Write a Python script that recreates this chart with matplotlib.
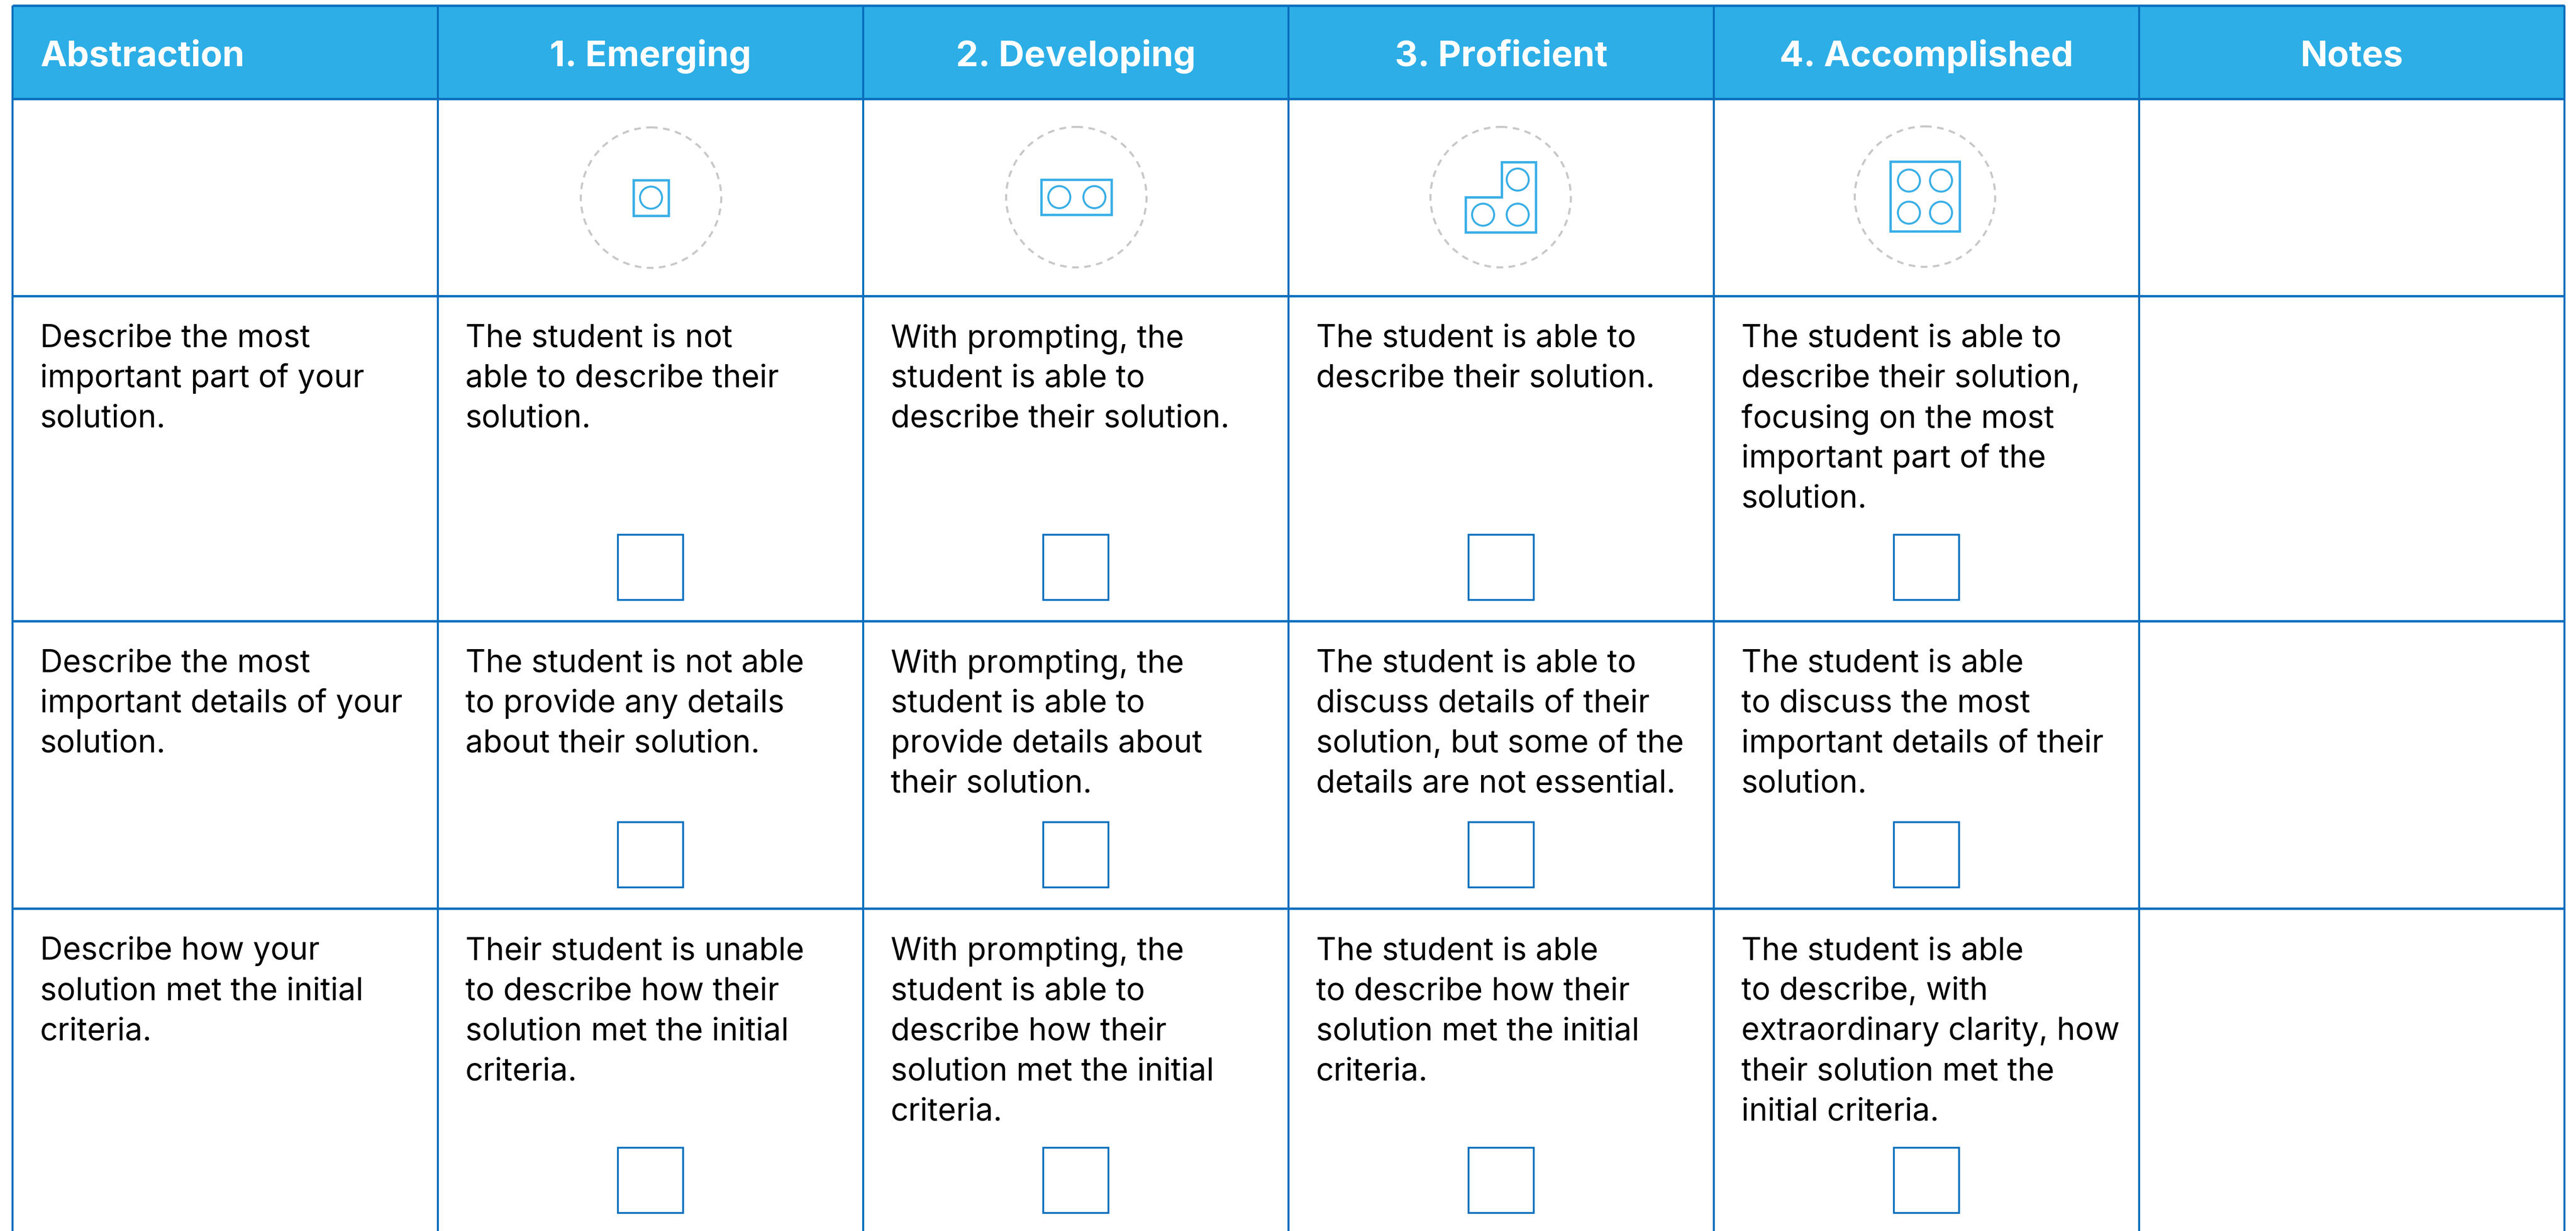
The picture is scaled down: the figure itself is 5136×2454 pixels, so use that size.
import matplotlib
matplotlib.use('Agg')
from matplotlib import pyplot as plt
from matplotlib.patches import Rectangle, Circle, Polygon

headers = ['Abstraction', '1. Emerging', '2. Developing', '3. Proficient', '4. Accomplished', 'Notes']

criteria = [
    'Describe the most\nimportant part of your\nsolution.',
    'Describe the most\nimportant details of your\nsolution.',
    'Describe how your\nsolution met the initial\ncriteria.',
]
emerging = [
    'The student is not\nable to describe their\nsolution.',
    'The student is not able\nto provide any details\nabout their solution.',
    'Their student is unable\nto describe how their\nsolution met the initial\ncriteria.',
]
developing = [
    'With prompting, the\nstudent is able to\ndescribe their solution.',
    'With prompting, the\nstudent is able to\nprovide details about\ntheir solution.',
    'With prompting, the\nstudent is able to\ndescribe how their\nsolution met the initial\ncriteria.',
]
proficient = [
    'The student is able to\ndescribe their solution.',
    'The student is able to\ndiscuss details of their\nsolution, but some of the\ndetails are not essential.',
    'The student is able\nto describe how their\nsolution met the initial\ncriteria.',
]
accomplished = [
    'The student is able to\ndescribe their solution,\nfocusing on the most\nimportant part of the\nsolution.',
    'The student is able\nto discuss the most\nimportant details of their\nsolution.',
    'The student is able\nto describe, with\nextraordinary clarity, how\ntheir solution met the\ninitial criteria.',
]
columns = [criteria, emerging, developing, proficient, accomplished]

# pixel layout of the table
W, H = 5136, 2454
COL_X = [25, 873, 1721, 2569, 3417, 4265, 5113]
ROW_Y = [11, 197, 590, 1238, 1811]
BOX_TOP = [1065, 1638, 2287]
BOX_SIZE = 130
LINE_H = 80
PAD = 55

BLUE = '#2daee6'
LINE = '#0a6ebd'
ICON = '#38aee6'
FONT = 'Inter'
BODY_PT = 45
HEAD_PT = 51


def drawGrid(ax):
    ax.add_patch(Rectangle((COL_X[0], ROW_Y[0]), COL_X[-1] - COL_X[0], ROW_Y[1] - ROW_Y[0],
                           facecolor=BLUE, edgecolor='none'))
    for x in COL_X:
        ax.plot([x, x], [ROW_Y[0], H], color=LINE, lw=2.9, solid_capstyle='butt')
    for y in ROW_Y:
        ax.plot([COL_X[0], COL_X[-1]], [y, y], color=LINE, lw=3.4, solid_capstyle='butt')


def drawHeaders(ax):
    for i, name in enumerate(headers):
        if i == 0:
            x, ha = COL_X[0] + PAD, 'left'
        else:
            x, ha = (COL_X[i] + COL_X[i + 1]) / 2, 'center'
        ax.text(x, 132, name, color='white', fontsize=HEAD_PT, fontweight='bold',
                family=FONT, ha=ha, va='baseline')


def drawCells(ax):
    for c, col in enumerate(columns):
        for r, cell in enumerate(col):
            for k, line in enumerate(cell.split('\n')):
                ax.text(COL_X[c] + PAD, ROW_Y[r + 2] + 102 + k * LINE_H, line, color='black',
                        fontsize=BODY_PT, family=FONT, va='baseline')
            if c > 0:
                x0 = (COL_X[c] + COL_X[c + 1]) / 2 - BOX_SIZE / 2
                ax.add_patch(Rectangle((x0, BOX_TOP[r] + 1), BOX_SIZE, BOX_SIZE, fill=False,
                                       edgecolor=LINE, lw=2.6))


def drawIcons(ax):
    # dashed rings
    for cx, cy in [(1298, 394), (2146, 393), (2992, 393), (3838, 392)]:
        ax.add_patch(Circle((cx, cy), 140, fill=False, edgecolor='#c8c8c8', lw=3,
                            ls=(0, (3.2, 2.6))))
    shapes = [
        [(1263, 359), (1333, 359), (1333, 430), (1263, 430)],
        [(2076, 358), (2216, 358), (2216, 428), (2076, 428)],
        [(2994, 323), (3062, 323), (3062, 463), (2922, 463), (2922, 393), (2994, 393)],
        [(3769, 322), (3907, 322), (3907, 461), (3769, 461)],
    ]
    for pts in shapes:
        ax.add_patch(Polygon(pts, closed=True, fill=False, edgecolor=ICON, lw=3.4, joinstyle='miter'))
    studs = [(1298, 394), (2112, 393), (2182, 393), (2957, 428), (3026, 428), (3026, 358),
             (3806, 360), (3870, 360), (3806, 424), (3870, 424)]
    for cx, cy in studs:
        ax.add_patch(Circle((cx, cy), 22, fill=False, edgecolor=ICON, lw=2.8))


if __name__ == '__main__':
    fig = plt.figure(figsize=(W / 100, H / 100), dpi=100)
    ax = fig.add_axes([0, 0, 1, 1])
    ax.set_xlim(0, W)
    ax.set_ylim(H, 0)
    ax.axis('off')
    drawGrid(ax)
    drawHeaders(ax)
    drawCells(ax)
    drawIcons(ax)
    fig.savefig('out.png', dpi=100)
